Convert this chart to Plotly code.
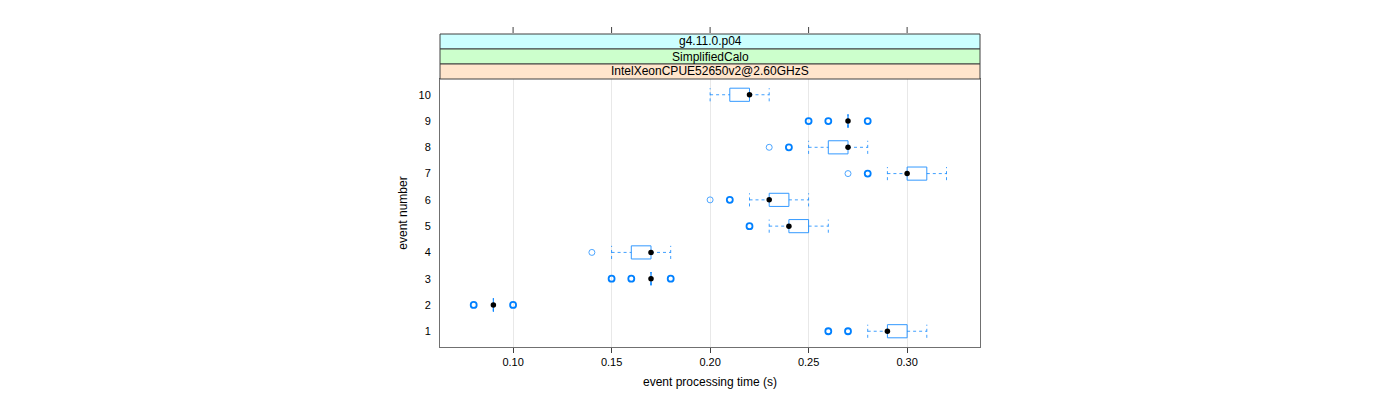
import plotly.graph_objects as go

# ---- data ----
events = [1, 2, 3, 4, 5, 6, 7, 8, 9, 10]
whisker_lo = [0.28, 0.09, 0.17, 0.15, 0.23, 0.22, 0.29, 0.25, 0.27, 0.20]
q1 = [0.29, 0.09, 0.17, 0.16, 0.24, 0.23, 0.30, 0.26, 0.27, 0.21]
median = [0.29, 0.09, 0.17, 0.17, 0.24, 0.23, 0.30, 0.27, 0.27, 0.22]
q3 = [0.30, 0.09, 0.17, 0.17, 0.25, 0.24, 0.31, 0.27, 0.27, 0.22]
whisker_hi = [0.31, 0.09, 0.17, 0.18, 0.26, 0.25, 0.32, 0.28, 0.27, 0.23]
# outliers: single points (thin circles) and repeated points (bold circles)
outliers_single = [[], [], [], [0.14], [], [0.20], [0.27], [0.23], [], []]
outliers_multi = [[0.26, 0.27], [0.08, 0.10], [0.15, 0.16, 0.18], [], [0.22], [0.21], [0.28], [0.24],
                  [0.25, 0.26, 0.28], []]
x_ticks = [0.10, 0.15, 0.20, 0.25, 0.30]
x_tick_labels = ["0.10", "0.15", "0.20", "0.25", "0.30"]
strips = ["g4.11.0.p04", "SimplifiedCalo", "IntelXeonCPUE52650v2@2.60GHzS"]
strip_colors = ["#ccffff", "#ccffcc", "#ffe5cc"]

BLUE = "#0080ff"
HALF = 0.25
FONT = "Liberation Sans, Arial, sans-serif"

box_x, box_y = [], []
wh_x, wh_y = [], []
cap_x, cap_y = [], []
for i, e in enumerate(events):
    box_x += [q1[i], q3[i], q3[i], q1[i], q1[i], None]
    box_y += [e - HALF, e - HALF, e + HALF, e + HALF, e - HALF, None]
    wh_x += [whisker_lo[i], q1[i], None, q3[i], whisker_hi[i], None]
    wh_y += [e, e, None, e, e, None]
    for w in (whisker_lo[i], whisker_hi[i]):
        cap_x += [w, w, None]
        cap_y += [e - HALF, e + HALF, None]

fig = go.Figure()
fig.add_trace(go.Scatter(x=wh_x, y=wh_y, mode="lines", line=dict(color=BLUE, width=1, dash="3px,3px"),
                         opacity=0.75, hoverinfo="skip"))
fig.add_trace(go.Scatter(x=cap_x, y=cap_y, mode="lines", line=dict(color=BLUE, width=1, dash="3px,3px"),
                         opacity=0.75, hoverinfo="skip"))
fig.add_trace(go.Scatter(x=box_x, y=box_y, mode="lines", line=dict(color=BLUE, width=1),
                         opacity=0.8, hoverinfo="skip"))

sx, sy, mx, my = [], [], [], []
for i, e in enumerate(events):
    for v in outliers_single[i]:
        sx.append(v); sy.append(e)
    for v in outliers_multi[i]:
        mx.append(v); my.append(e)
fig.add_trace(go.Scatter(x=sx, y=sy, mode="markers",
                         marker=dict(symbol="circle-open", size=6, color="#4da6ff", line=dict(width=1))))
fig.add_trace(go.Scatter(x=mx, y=my, mode="markers",
                         marker=dict(symbol="circle-open", size=6, color=BLUE, line=dict(width=1.8))))
fig.add_trace(go.Scatter(x=median, y=events, mode="markers",
                         marker=dict(symbol="circle", size=5.5, color="black")))

# strips
PH = 268
sh = 15 / PH
shapes = []
annotations = []
for k, (txt, col) in enumerate(zip(strips, strip_colors)):
    y1 = 1 + (3 - k) * sh
    y0 = y1 - sh
    shapes.append(dict(type="rect", xref="paper", yref="paper", x0=0, x1=1, y0=y0, y1=y1,
                       fillcolor=col, line=dict(color="#404040", width=1), layer="above"))
    annotations.append(dict(xref="paper", yref="paper", x=0.5, y=(y0 + y1) / 2, text=txt,
                            showarrow=False, font=dict(family=FONT, size=12, color="black"),
                            xanchor="center", yanchor="middle"))
# top tick marks above strips
for t in x_ticks:
    shapes.append(dict(type="line", xref="x", yref="paper", x0=t, x1=t,
                       y0=1 + 3 * sh + 1 / PH, y1=1 + 3 * sh + 7 / PH,
                       line=dict(color="#404040", width=1)))

fig.update_layout(
    width=1400, height=400,
    margin=dict(l=432, r=428, t=71, b=61),
    paper_bgcolor="white", plot_bgcolor="white",
    showlegend=False,
    shapes=shapes, annotations=annotations,
    font=dict(family=FONT, size=11, color="black"),
    xaxis=dict(range=[0.0629, 0.337], tickvals=x_ticks, ticktext=x_tick_labels,
               showgrid=True, gridcolor="#e8e8e8", gridwidth=1, zeroline=False,
               ticks="outside", ticklen=5, tickcolor="#404040",
               showline=True, linecolor="#707070", linewidth=1, mirror=True,
               title=dict(text="event processing time (s)", font=dict(size=12), standoff=10)),
    yaxis=dict(range=[0.4, 10.6], tickvals=events, ticktext=[str(e) for e in events],
               showgrid=False, zeroline=False, ticks="", ticklabelstandoff=6,
               showline=True, linecolor="#707070", linewidth=1, mirror=True,
               title=dict(text="event number", font=dict(size=12), standoff=8)),
)

fig.write_html("out.html")
